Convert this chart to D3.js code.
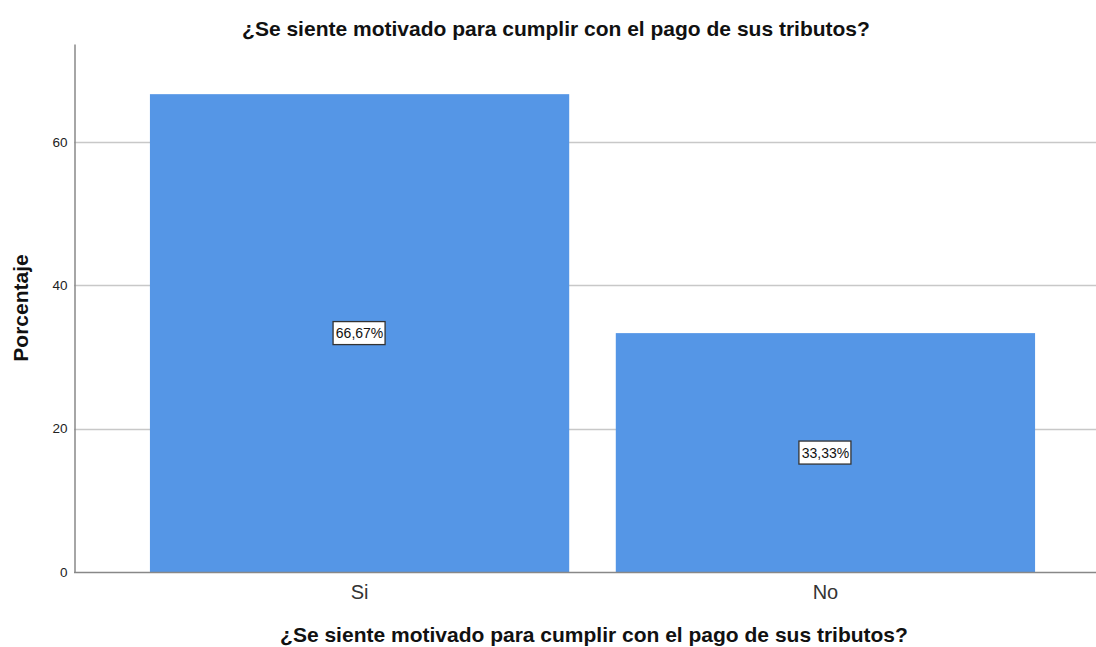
<!DOCTYPE html>
<html>
<head>
<meta charset="utf-8">
<script src="https://cdn.jsdelivr.net/npm/d3@7"></script>
<style>
  html, body { margin: 0; padding: 0; background: #fff; }
  svg { display: block; font-family: "Liberation Sans", Arial, sans-serif; }
</style>
</head>
<body>
<div id="chart"></div>
<script>
const TITLE = '¿Se siente motivado para cumplir con el pago de sus tributos?';
const X_TITLE = '¿Se siente motivado para cumplir con el pago de sus tributos?';
const Y_TITLE = 'Porcentaje';
const categories = ['Si', 'No'];
const percentages = [66.67, 33.33];
const yTicks = [0, 20, 40, 60];

const WIDTH = 1096;
const HEIGHT = 647;
const BAR_COLOR = '#5596e6';

const data = categories.map((c, i) => ({ category: c, value: percentages[i] }));

const svg = d3.select('#chart')
  .append('svg')
  .attr('width', WIDTH)
  .attr('height', HEIGHT);

const x = d3.scaleBand()
  .domain(categories)
  .range([74, 1111])
  .paddingInner(0.1)
  .paddingOuter(0.163);

const y = d3.scaleLinear()
  .domain([0, 73.67])
  .range([572, 44]);

// gridlines
svg.append('g')
  .selectAll('line')
  .data(yTicks.filter(t => t > 0))
  .enter()
  .append('line')
  .attr('x1', 74)
  .attr('x2', WIDTH)
  .attr('y1', d => Math.round(y(d)) + 0.5)
  .attr('y2', d => Math.round(y(d)) + 0.5)
  .attr('stroke', '#c8c8c8')
  .attr('stroke-width', 1.5);

// bars
svg.append('g')
  .selectAll('rect')
  .data(data)
  .enter()
  .append('rect')
  .attr('x', d => x(d.category))
  .attr('y', d => y(d.value))
  .attr('width', x.bandwidth())
  .attr('height', d => y(0) - y(d.value))
  .attr('fill', BAR_COLOR);

// y axis
const yAxis = svg.append('g')
  .attr('transform', 'translate(74.5,0)')
  .call(d3.axisLeft(y).tickValues(yTicks).tickSize(0).tickPadding(7));
yAxis.select('.domain').attr('stroke', '#888').attr('stroke-width', 1.5);
yAxis.selectAll('text')
  .attr('font-size', 13.5)
  .attr('fill', '#222')
  .attr('font-family', '"Liberation Sans", Arial, sans-serif');

// x axis
const xAxis = svg.append('g')
  .attr('transform', 'translate(0,572.5)')
  .call(d3.axisBottom(x).tickSize(0).tickPadding(12));
xAxis.select('.domain').remove();
xAxis.append('line')
  .attr('x1', 74)
  .attr('x2', WIDTH)
  .attr('stroke', '#888')
  .attr('stroke-width', 1.5);
xAxis.selectAll('text')
  .attr('font-size', 20)
  .attr('fill', '#333')
  .attr('font-family', '"Liberation Sans", Arial, sans-serif');

// value labels
const labels = svg.append('g')
  .selectAll('g')
  .data(data)
  .enter()
  .append('g')
  .attr('transform', d => `translate(${x(d.category) + x.bandwidth() / 2},${y(d.value / 2)})`);

labels.append('text')
  .attr('text-anchor', 'middle')
  .attr('dy', '0.36em')
  .attr('font-size', 14)
  .attr('fill', '#111')
  .text(d => d.value.toFixed(2).replace('.', ',') + '%');

labels.each(function () {
  const g = d3.select(this);
  const bb = g.select('text').node().getBBox();
  g.insert('rect', 'text')
    .attr('x', Math.round(bb.x) - 2.5)
    .attr('y', -11.5)
    .attr('width', Math.round(bb.width) + 5)
    .attr('height', 23)
    .attr('fill', '#fff')
    .attr('stroke', '#333')
    .attr('stroke-width', 1.3);
});

// titles
svg.append('text')
  .attr('x', 556)
  .attr('y', 36)
  .attr('text-anchor', 'middle')
  .attr('font-size', 21)
  .attr('font-weight', 'bold')
  .attr('fill', '#111')
  .text(TITLE);

svg.append('text')
  .attr('x', 594)
  .attr('y', 642)
  .attr('text-anchor', 'middle')
  .attr('font-size', 21)
  .attr('font-weight', 'bold')
  .attr('fill', '#111')
  .text(X_TITLE);

svg.append('text')
  .attr('transform', 'translate(28,308) rotate(-90)')
  .attr('text-anchor', 'middle')
  .attr('font-size', 21)
  .attr('font-weight', 'bold')
  .attr('fill', '#111')
  .text(Y_TITLE);
</script>
</body>
</html>
